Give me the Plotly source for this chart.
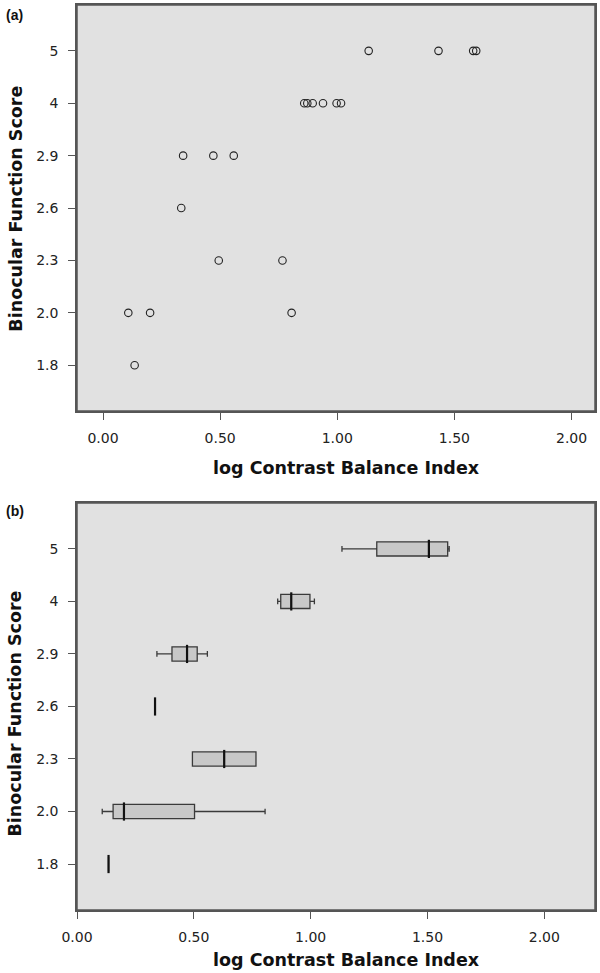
import numpy as np
import plotly.graph_objects as go

# ---- data ----
categories = ["1.8", "2.0", "2.3", "2.6", "2.9", "4", "5"]
cbi_1_8 = [0.135]
cbi_2_0 = [0.108, 0.201, 0.805]
cbi_2_3 = [0.494, 0.766]
cbi_2_6 = [0.334]
cbi_2_9 = [0.342, 0.471, 0.558]
cbi_4 = [0.859, 0.872, 0.895, 0.939, 0.997, 1.016]
cbi_5 = [1.134, 1.432, 1.580, 1.593]
x_ticks = [0.0, 0.5, 1.0, 1.5, 2.0]
x_ticklabels = ["0.00", "0.50", "1.00", "1.50", "2.00"]

groups = [cbi_1_8, cbi_2_0, cbi_2_3, cbi_2_6, cbi_2_9, cbi_4, cbi_5]
xs = [v for g in groups for v in g]
ys = [c for c, g in zip(categories, groups) for _ in g]
medians = [float(np.median(g)) for g in groups]

TICKFONT = dict(family="DejaVu Sans", size=14, color="#222222")
TITLEFONT = dict(family="DejaVu Sans", size=17.5, color="#111111")
AX = "#555555"

fig = go.Figure()

# panel (a): scatter
fig.add_trace(go.Scatter(
    x=xs, y=ys, mode="markers", xaxis="x", yaxis="y",
    marker=dict(symbol="circle-open", size=7.5, color="#222222", line=dict(width=1.1, color="#222222")),
    showlegend=False, hoverinfo="x+y"))

# panel (b): box plot
fig.add_trace(go.Box(
    x=xs, y=ys, orientation="h", xaxis="x2", yaxis="y2",
    quartilemethod="inclusive", boxpoints=False,
    fillcolor="#c8c8c8", line=dict(color="#3a3a3a", width=1.3),
    width=0.27, whiskerwidth=0.4, showlegend=False))

# thicker median marks
fig.add_trace(go.Scatter(
    x=medians, y=categories, mode="markers", xaxis="x2", yaxis="y2",
    marker=dict(symbol="line-ns", size=13, line=dict(width=2.2, color="#111111")),
    showlegend=False, hoverinfo="skip"))

xaxis_common = dict(
    tickvals=x_ticks, ticktext=x_ticklabels, ticks="outside", ticklen=7,
    tickcolor=AX, tickwidth=1, showgrid=False, zeroline=False,
    showline=True, linecolor=AX, linewidth=1.5, mirror=True,
    ticklabelstandoff=6, tickfont=TICKFONT)
yaxis_common = dict(
    type="category", categoryorder="array", categoryarray=categories,
    range=[-0.875, 6.875], ticks="outside", ticklen=7, tickcolor=AX, tickwidth=1,
    showgrid=False, zeroline=False, showline=True, linecolor=AX, linewidth=1.5,
    mirror=True, ticklabelstandoff=7, tickfont=TICKFONT)

fig.update_layout(
    width=600, height=973,
    margin=dict(l=77, r=4, t=3, b=63),
    paper_bgcolor="white", plot_bgcolor="#e1e1e1",
    xaxis=dict(domain=[0, 1], anchor="y", range=[-0.111, 2.10], **xaxis_common),
    yaxis=dict(domain=[0.5513, 1.0], anchor="x", **yaxis_common),
    xaxis2=dict(domain=[0, 1], anchor="y2", range=[0, 2.217], **xaxis_common),
    yaxis2=dict(domain=[0.0, 0.4498], anchor="x2", **yaxis_common),
    shapes=[
        dict(type="rect", xref="paper", yref="paper", x0=0, x1=1, y0=0.5513, y1=1.0,
             line=dict(color=AX, width=1.5), layer="above"),
        dict(type="rect", xref="paper", yref="paper", x0=0, x1=1, y0=0.0, y1=0.4498,
             line=dict(color=AX, width=1.5), layer="above"),
    ],
)

ann = []
# x-axis titles
ann.append(dict(text="<b>log Contrast Balance Index</b>", xref="paper", yref="paper",
                x=(347 - 77) / 519, y=(910 - 467) / 907, showarrow=False, font=TITLEFONT,
                xanchor="center", yanchor="middle"))
ann.append(dict(text="<b>log Contrast Balance Index</b>", xref="paper", yref="paper",
                x=(347 - 77) / 519, y=(910 - 960) / 907, showarrow=False, font=TITLEFONT,
                xanchor="center", yanchor="middle"))
# y-axis titles
ann.append(dict(text="<b>Binocular Function Score</b>", xref="paper", yref="paper",
                x=(15 - 77) / 519, y=(910 - 207) / 907, showarrow=False, font=TITLEFONT,
                textangle=-90, xanchor="center", yanchor="middle"))
ann.append(dict(text="<b>Binocular Function Score</b>", xref="paper", yref="paper",
                x=(15 - 77) / 519, y=(910 - 713) / 907, showarrow=False, font=TITLEFONT,
                textangle=-90, xanchor="center", yanchor="middle"))
# panel labels
PLFONT = dict(family="Liberation Sans", size=14, color="#111111")
ann.append(dict(text="<b>(a)</b>", xref="paper", yref="paper",
                x=(4 - 77) / 519, y=(910 - 13) / 907, showarrow=False,
                font=PLFONT, xanchor="left", yanchor="middle"))
ann.append(dict(text="<b>(b)</b>", xref="paper", yref="paper",
                x=(4 - 77) / 519, y=(910 - 510) / 907, showarrow=False,
                font=PLFONT, xanchor="left", yanchor="middle"))
fig.update_layout(annotations=ann)

fig.write_html("out.html", config={"displayModeBar": False},
               post_script="document.body.style.margin='0px';document.body.style.padding='0px';")
